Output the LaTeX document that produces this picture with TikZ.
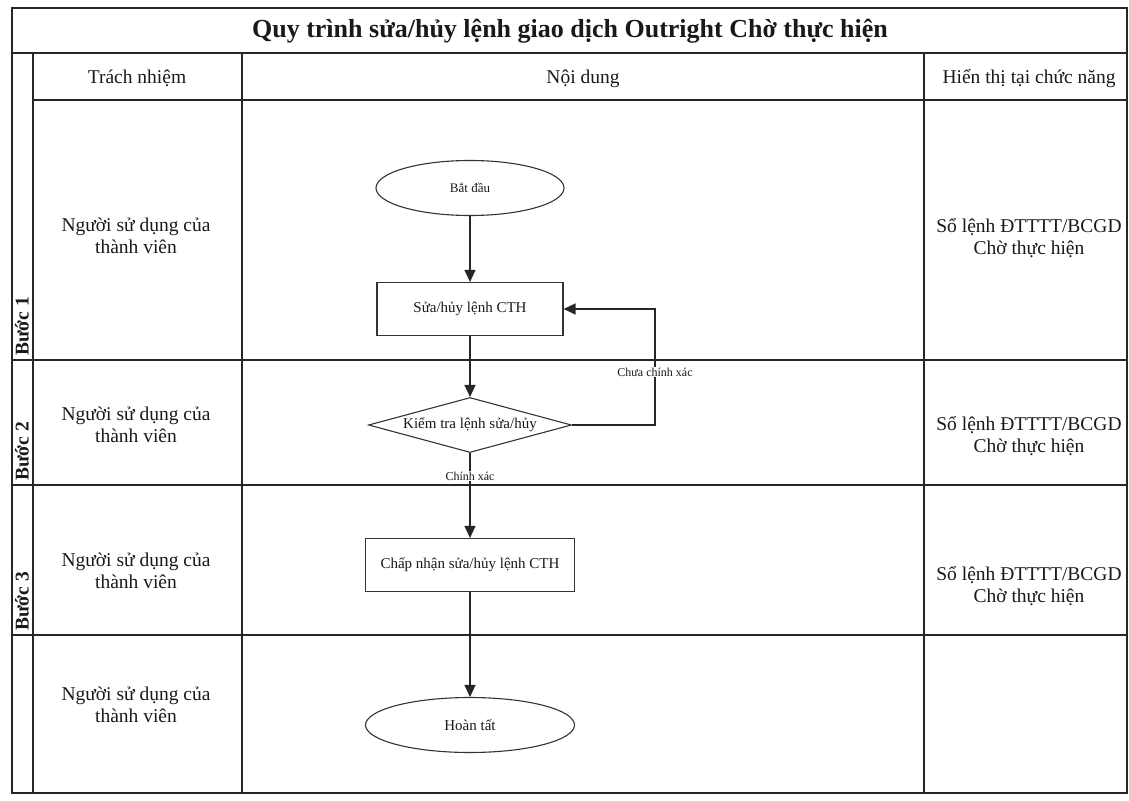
\documentclass[tikz,border=0pt]{standalone}
\usepackage{fontspec}
\setmainfont{Liberation Serif}
\usetikzlibrary{arrows.meta,shapes.geometric}
\begin{document}
\begin{tikzpicture}[x=1pt,y=-1pt,
  tbl/.style={line width=1.6pt, draw=black!85},
  cell/.style={font=\fontsize{19.5}{22.5}\selectfont, align=center, text=black!90, inner sep=1pt},
  steplabel/.style={rotate=90, anchor=west, font=\bfseries\fontsize{19.5}{22}\selectfont, inner sep=0pt, text=black!90},
  proc/.style={draw=black!80, line width=1.1pt, rectangle, minimum height=53pt, font=\fontsize{15}{17}\selectfont, inner sep=1pt, text=black!90},
  term/.style={draw=black!80, line width=1.1pt, ellipse, minimum height=55pt, font=\fontsize{15}{17}\selectfont, inner sep=1pt, text=black!90},
  dec/.style={draw=black!80, line width=1.1pt, diamond, aspect=3.7, minimum width=203pt, minimum height=55pt, font=\fontsize{15}{17}\selectfont, inner sep=0pt, text=black!90},
  flow/.style={-{Triangle[length=12pt,width=11pt]}, line width=1.2pt, draw=black!85},
  lbl/.style={font=\fontsize{12}{14}\selectfont, fill=white, inner sep=1pt, text=black!90}
]
\useasboundingbox (0,0) rectangle (1129,800);

% table frame
\draw[tbl] (12,8) rectangle (1127,793);
\draw[tbl] (12,53) -- (1127,53);
\draw[tbl] (33,100) -- (1127,100);
\draw[tbl] (12,360) -- (1127,360);
\draw[tbl] (12,485) -- (1127,485);
\draw[tbl] (12,635) -- (1127,635);
\draw[tbl] (33,53) -- (33,793);
\draw[tbl] (242,53) -- (242,793);
\draw[tbl] (924,53) -- (924,793);

% title and headers
\node[font=\bfseries\fontsize{26}{28}\selectfont, text=black!90] (title) at (570,31) {Quy trình sửa/hủy lệnh giao dịch Outright Chờ thực hiện};
\node[cell] (h1) at (137,78) {Trách nhiệm};
\node[cell] (h2) at (583,79) {Nội dung};
\node[cell] (h3) at (1029,79) {Hiển thị tại chức năng};

% step labels
\node[steplabel] (b1) at (22,356) {Bước 1};
\node[steplabel] (b2) at (22,481) {Bước 2};
\node[steplabel] (b3) at (22,631) {Bước 3};

% responsibility
\node[cell] (r1) at (136,236) {Người sử dụng của\\thành viên};
\node[cell] (r2) at (136,425) {Người sử dụng của\\thành viên};
\node[cell] (r3) at (136,571) {Người sử dụng của\\thành viên};
\node[cell] (r4) at (136,705) {Người sử dụng của\\thành viên};

% display function
\node[cell] (f1) at (1029,238) {Sổ lệnh ĐTTTT/BCGD\\Chờ thực hiện};
\node[cell] (f2) at (1029,436) {Sổ lệnh ĐTTTT/BCGD\\Chờ thực hiện};
\node[cell] (f3) at (1029,586) {Sổ lệnh ĐTTTT/BCGD\\Chờ thực hiện};

% flow nodes
\node[term, minimum width=188pt, font=\fontsize{13}{15}\selectfont] (start) at (470,188) {Bắt đầu};
\node[proc, minimum width=186pt] (edit) at (470,309) {Sửa/hủy lệnh CTH};
\node[dec] (check) at (470,425) {Kiểm tra lệnh sửa/hủy};
\node[proc, minimum width=209pt] (accept) at (470,565) {Chấp nhận sửa/hủy lệnh CTH};
\node[term, minimum width=209pt] (done) at (470,725) {Hoàn tất};

\coordinate (loopx) at (655,0);

\draw[flow] (start) -- (edit);
\draw[flow] (edit) -- (check);
\draw[flow] (check) -- (accept);
\draw[flow] (accept) -- (done);
\draw[flow] (check.east) -- (check.east -| loopx) -- (loopx |- edit.east) -- (edit.east);

\node[lbl] (ok) at (470,476) {Chính xác};
\node[lbl] (nok) at (655,372) {Chưa chính xác};
\end{tikzpicture}
\end{document}
